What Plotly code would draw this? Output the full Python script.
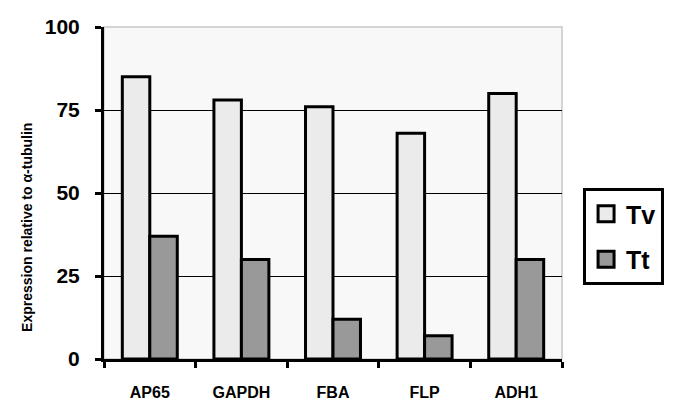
import plotly.graph_objects as go

categories = ["AP65", "GAPDH", "FBA", "FLP", "ADH1"]
tv_values = [85, 78, 76, 68, 80]
tt_values = [37, 30, 12, 7, 30]
y_ticks = [0, 25, 50, 75, 100]
series_names = ["Tv", "Tt"]
series_colors = ["#ebebeb", "#999999"]

font = "Liberation Sans, Arial, sans-serif"
fig = go.Figure()
for name, vals, col in zip(series_names, [tv_values, tt_values], series_colors):
    fig.add_trace(go.Bar(name=name, x=categories, y=vals, showlegend=False,
                         marker=dict(color=col, line=dict(color="black", width=3))))
for i, (name, col) in enumerate(zip(series_names, series_colors)):
    fig.add_trace(go.Scatter(name=name, x=[None], y=[None], mode="markers",
                             legendgroup=f"g{i}", showlegend=True,
                             marker=dict(symbol="square", size=16, color=col,
                                         line=dict(color="black", width=3))))

fig.update_layout(
    width=685, height=416,
    margin=dict(l=104, r=123, t=27, b=57, autoexpand=False),
    paper_bgcolor="white", plot_bgcolor="#f8f8f8",
    barmode="group", bargap=0.4, bargroupgap=0,
    font=dict(family=font, color="black"),
    showlegend=True,
    legend=dict(x=1.046, y=0.515, xanchor="left", yanchor="top",
                bordercolor="black", borderwidth=3, bgcolor="white",
                font=dict(size=25, family=font, color="black", weight="bold"),
                tracegroupgap=10, itemwidth=30, itemsizing="trace"),
    xaxis=dict(showline=True, linecolor="black", linewidth=3, ticks="outside",
               tickson="boundaries", ticklen=6, tickwidth=3, tickcolor="black",
               tickfont=dict(size=16, weight="bold"), showgrid=False,
               automargin=False, ticklabelstandoff=17),
    yaxis=dict(range=[0, 100], tickvals=y_ticks, showline=True, linecolor="black",
               linewidth=3, ticks="outside", ticklen=6, tickwidth=3, tickcolor="black",
               tickfont=dict(size=21, weight="bold"), showgrid=True, gridcolor="black",
               gridwidth=1, zeroline=False, automargin=False, ticklabelstandoff=11),
)
fig.add_annotation(text="Expression relative to α-tubulin", xref="paper", yref="paper",
                   x=-0.168, y=0.395, xanchor="center", yanchor="middle", textangle=-90,
                   showarrow=False, font=dict(size=14, weight="bold", family=font))
fig.add_shape(type="rect", xref="paper", yref="paper", x0=0, x1=1, y0=0, y1=1,
              line=dict(color="#c8c8c8", width=1.5), layer="below")
fig.write_html("out.html", config={"displayModeBar": False},
               post_script="document.body.style.margin='0';")
